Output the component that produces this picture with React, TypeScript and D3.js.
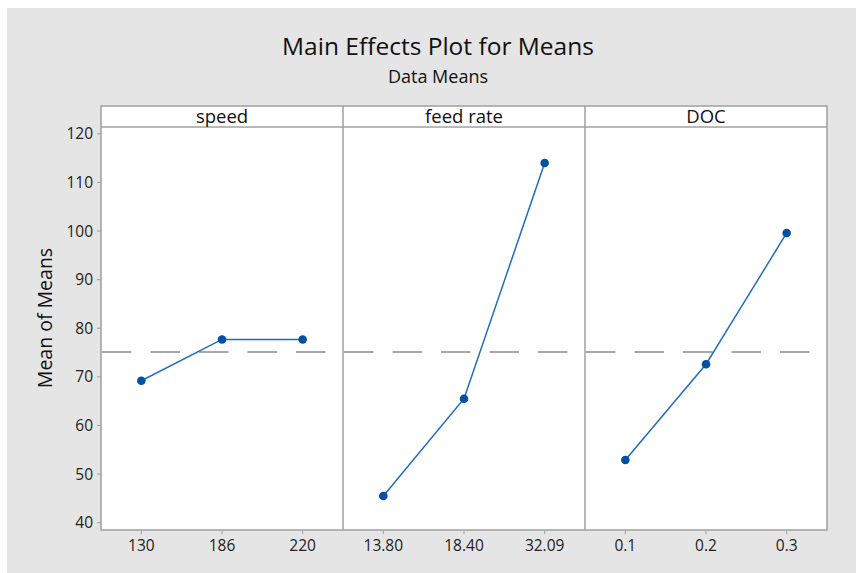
import React from "react";
import { scaleLinear, scalePoint, line } from "d3";

const factors = ["speed", "feed rate", "DOC"];
const levels = [
  ["130", "186", "220"],
  ["13.80", "18.40", "32.09"],
  ["0.1", "0.2", "0.3"],
];
const means = [
  [69.2, 77.7, 77.7],
  [45.5, 65.5, 114.0],
  [52.9, 72.6, 99.6],
];
const grandMean = 75.1;
const yTicks = [40, 50, 60, 70, 80, 90, 100, 110, 120];

const W = 856;
const H = 573;
const left = 101;
const right = 827;
const top = 106;
const headerH = 21;
const bottom = 530;
const font = "'Open Sans', 'Noto Sans', sans-serif";

export default function App() {
  const panelW = (right - left) / factors.length;
  const yScale = scaleLinear()
    .domain([38.5, 121.4])
    .range([bottom, top + headerH]);

  const panels = factors.map((f, i) => {
    const x0 = left + i * panelW;
    const xScale = scalePoint()
      .domain(levels[i])
      .range([x0, x0 + panelW])
      .padding(0.5);
    const pts = levels[i].map((l, j) => ({ l, v: means[i][j] }));
    const path = line<{ l: string; v: number }>()
      .x((d) => xScale(d.l) as number)
      .y((d) => yScale(d.v))(pts);
    return (
      <g key={f}>
        <line
          x1={x0 + 1}
          x2={x0 + panelW - 1}
          y1={yScale(grandMean)}
          y2={yScale(grandMean)}
          stroke="#a8a8a8"
          strokeWidth={2}
          strokeDasharray="29.5,19"
        />
        <path d={path || ""} fill="none" stroke="#1f6cc1" strokeWidth={1.5} />
        {pts.map((d) => (
          <circle
            key={d.l}
            cx={xScale(d.l)}
            cy={yScale(d.v)}
            r={4.3}
            fill="#0051a3"
          />
        ))}
        <text
          x={x0 + panelW / 2}
          y={top + 17}
          textAnchor="middle"
          fontSize={18.5}
          fontFamily={font}
          fill="#111"
        >
          {f}
        </text>
        {levels[i].map((l) => (
          <g key={l}>
            <line
              x1={xScale(l)}
              x2={xScale(l)}
              y1={bottom}
              y2={bottom + 4}
              stroke="#a0a0a0"
            />
            <text
              x={xScale(l)}
              y={bottom + 21}
              textAnchor="middle"
              fontSize={15.5}
              fontFamily={font}
              fill="#222"
            >
              {l}
            </text>
          </g>
        ))}
        {i > 0 && (
          <line
            x1={x0}
            x2={x0}
            y1={top}
            y2={bottom}
            stroke="#a0a0a0"
            strokeWidth={1.5}
          />
        )}
      </g>
    );
  });

  return (
    <svg
      width={W}
      height={H}
      style={{ position: "absolute", left: 0, top: 0 }}
    >
      <rect x={0} y={0} width={W} height={H} fill="#fff" />
      <rect x={7} y={8} width={W - 7} height={H - 8} fill="#e5e5e5" />
      <rect
        x={left}
        y={top}
        width={right - left}
        height={bottom - top}
        fill="#fff"
        stroke="#a0a0a0"
        strokeWidth={1.5}
      />
      <line
        x1={left}
        x2={right}
        y1={top + headerH}
        y2={top + headerH}
        stroke="#a0a0a0"
        strokeWidth={1.5}
      />
      {panels}
      {yTicks.map((t) => (
        <g key={t}>
          <line
            x1={left - 4}
            x2={left}
            y1={yScale(t)}
            y2={yScale(t)}
            stroke="#a0a0a0"
          />
          <text
            x={left - 8}
            y={yScale(t) + 5.5}
            textAnchor="end"
            fontSize={15.5}
            fontFamily={font}
            fill="#222"
          >
            {t}
          </text>
        </g>
      ))}
      <text
        x={438}
        y={55}
        textAnchor="middle"
        fontSize={24.5}
        fontFamily={font}
        fill="#111"
      >
        Main Effects Plot for Means
      </text>
      <text
        x={438}
        y={83}
        textAnchor="middle"
        fontSize={18}
        fontFamily={font}
        fill="#111"
      >
        Data Means
      </text>
      <text
        transform={`translate(52,318) rotate(-90)`}
        textAnchor="middle"
        fontSize={19.5}
        fontFamily={font}
        fill="#111"
      >
        Mean of Means
      </text>
    </svg>
  );
}
